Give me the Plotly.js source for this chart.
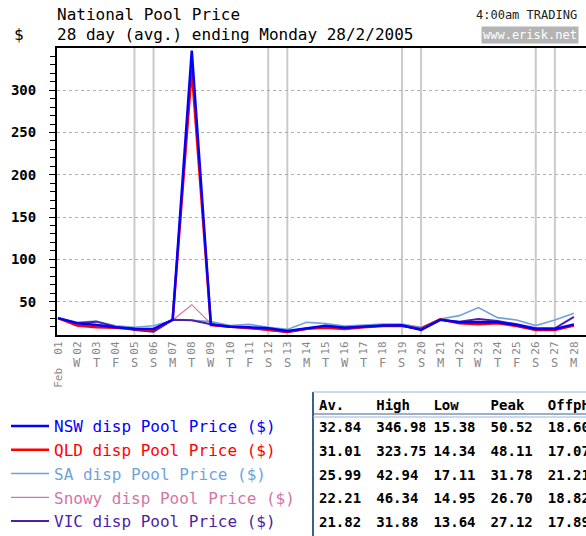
<!DOCTYPE html>
<html><head><meta charset="utf-8">
<script src="https://cdn.plot.ly/plotly-3.0.1.min.js"></script>
<style>
html,body{margin:0;padding:0;overflow:hidden;background:#fff;width:586px;height:536px}
#chart{width:610px;height:550px}
</style>
</head><body><div id="chart"></div>
<script>
// ---- data ----
const days = [1,2,3,4,5,6,7,8,9,10,11,12,13,14,15,16,17,18,19,20,21,22,23,24,25,26,27,28];
const dayNums = ['Feb\u00a0\u00a001','02','03','04','05','06','07','08','09','10','11','12','13','14','15','16','17','18','19','20','21','22','23','24','25','26','27','28'];
const dayLetters = ['','W','T','F','S','S','M','T','W','T','F','S','S','M','T','W','T','F','S','S','M','T','W','T','F','S','S','M'];
const weekendDays = [5,6,12,13,19,20,26,27];

const nsw   = [30.5,24.3,22.3,19.6,18.0,17.6,28.5,346.98,23.1,20.4,19.6,18.4,15.38,18.4,21.5,19.2,20.5,21.8,22.0,16.5,28.5,25.5,25.5,25.5,22.3,17.6,17.6,23.1];
const qld   = [30.5,21.6,19.6,19.2,17.6,16.8,28.5,323.75,22.3,20.4,19.2,16.8,14.34,18.0,19.0,17.6,19.6,21.0,21.0,18.0,29.0,24.3,23.1,24.3,21.2,16.4,16.4,21.6];
const sa    = [31.0,25.5,27.0,21.5,19.6,21.5,28.0,27.9,26.3,21.6,23.1,19.6,17.11,25.5,24.0,21.0,22.3,23.5,23.5,19.5,29.5,33.4,42.94,31.0,28.3,21.6,28.3,36.2];
const snowy = [30.0,24.0,23.0,20.0,17.0,17.0,28.0,46.34,24.0,20.5,19.5,17.5,14.95,18.0,21.0,19.0,20.5,21.5,21.5,17.0,28.5,25.0,27.0,25.5,22.5,17.5,17.5,22.0];
const vic   = [30.5,24.3,26.3,20.4,16.4,14.4,28.5,28.0,23.1,20.4,19.2,16.4,13.64,17.6,21.0,19.0,20.5,21.5,21.5,17.0,28.5,26.3,29.5,27.1,23.1,18.4,18.4,31.88];

const seriesNames = ['NSW disp Pool Price ($)','QLD disp Pool Price ($)','SA disp Pool Price ($)','Snowy disp Pool Price ($)','VIC disp Pool Price ($)'];

const statHeaders = ['Av.','High','Low','Peak','OffpH'];
const statAv   = [32.84,31.01,25.99,22.21,21.82];
const statHigh = [346.98,323.75,42.94,46.34,31.88];
const statLow  = [15.38,14.34,17.11,14.95,13.64];
const statPeak = [50.52,48.11,31.78,26.70,27.12];
const statOff  = [18.60,17.07,21.21,18.82,17.89];

// ---- layout helpers ----
const W = 610, H = 550, ML = 57, MR = 5, MT = 48, MB = 0;
const PW = W - ML - MR, PH = H - MT - MB;
const px = x => (x - ML) / PW;
const py = y => (H - y) / PH;
const MONO = 'DejaVu Sans Mono';

const colors = {nsw:'#0000ff', qld:'#ff0000', sa:'#6fa3dc', snowy:'#d474a6', vic:'#4b1fa8'};
function nm(i, c){ return '<span style="color:'+c+'">'+seriesNames[i]+'</span>'; }

const traces = [
  {x:days, y:sa, name:nm(2,colors.sa), legendrank:3, line:{color:colors.sa, width:1.6}},
  {x:days, y:snowy, name:nm(3,colors.snowy), legendrank:4, line:{color:colors.snowy, width:1.2}},
  {x:days, y:vic, name:nm(4,colors.vic), legendrank:5, line:{color:colors.vic, width:2}},
  {x:days, y:qld, name:nm(1,colors.qld), legendrank:2, line:{color:colors.qld, width:2.5}},
  {x:days, y:nsw, name:nm(0,colors.nsw), legendrank:1, line:{color:colors.nsw, width:2.5}}
].map(t => Object.assign({type:'scatter', mode:'lines', hoverinfo:'skip'}, t));

const fmt = a => a.map(v => v.toFixed(2));
traces.push({
  type:'table',
  domain:{x:[px(311), px(598)], y:[0, py(391.5)]},
  columnwidth:[1,1,1,1,1],
  header:{values:statHeaders, align:'left', height:22,
          font:{family:MONO, size:14, weight:'bold', color:'#000'},
          fill:{color:'rgba(0,0,0,0)'}, line:{color:'rgba(0,0,0,0)', width:0}},
  cells:{values:[fmt(statAv),fmt(statHigh),fmt(statLow),fmt(statPeak),fmt(statOff)],
         align:'left', height:23.75,
         font:{family:MONO, size:14, weight:'bold', color:'#000'},
         fill:{color:'rgba(0,0,0,0)'}, line:{color:'rgba(0,0,0,0)', width:0}}
});

const shapes = weekendDays.map(d => ({type:'line', xref:'x', yref:'y domain', x0:d, x1:d, y0:0, y1:1,
  line:{color:'#cacaca', width:2}, layer:'below'}));
// table frame
shapes.push({type:'line', xref:'paper', yref:'paper', x0:px(313), x1:px(313), y0:py(392), y1:py(550), line:{color:'#3d5f8f', width:2}});
shapes.push({type:'line', xref:'paper', yref:'paper', x0:px(313), x1:1, y0:py(392), y1:py(392), line:{color:'#9ab4d4', width:1}});
shapes.push({type:'line', xref:'paper', yref:'paper', x0:px(313), x1:1, y0:py(414), y1:py(414), line:{color:'#3d5f8f', width:1}});
shapes.push({type:'line', xref:'paper', yref:'paper', x0:px(313), x1:1, y0:py(417), y1:py(417), line:{color:'#9ab4d4', width:1}});

const annotations = days.map((d,i) => ({x:d, xref:'x', y:py(363), yref:'paper', text:dayLetters[i],
  showarrow:false, font:{family:MONO, size:12, color:'#888'}, xanchor:'center', yanchor:'middle'}));
annotations.push(
  {x:px(55), y:py(14), xref:'paper', yref:'paper', text:'National Pool Price', showarrow:false, xanchor:'left', yanchor:'middle', font:{family:MONO, size:16, color:'#000'}},
  {x:px(55), y:py(34), xref:'paper', yref:'paper', text:'28 day (avg.) ending Monday 28/2/2005', showarrow:false, xanchor:'left', yanchor:'middle', font:{family:MONO, size:16, color:'#000'}},
  {x:px(12), y:py(34), xref:'paper', yref:'paper', text:'$', showarrow:false, xanchor:'left', yanchor:'middle', font:{family:MONO, size:16, color:'#000'}},
  {x:px(474), y:py(15), xref:'paper', yref:'paper', text:'4:00am TRADING', showarrow:false, xanchor:'left', yanchor:'middle', font:{family:MONO, size:12, color:'#222'}},
  {x:px(481), y:py(35), xref:'paper', yref:'paper', text:'www.erisk.net', showarrow:false, xanchor:'left', yanchor:'middle', bgcolor:'#b4b4b4', borderpad:1, font:{family:MONO, size:12, color:'#ffffff'}}
);

const x0 = 1 - 1/19.11;
const layout = {
  width:W, height:H,
  margin:{l:ML, r:MR, t:MT, b:MB, pad:0},
  paper_bgcolor:'#fff', plot_bgcolor:'#fff',
  showlegend:true,
  legend:{x:px(6), y:py(409), xanchor:'left', yanchor:'top', font:{family:MONO, size:16},
          bgcolor:'rgba(0,0,0,0)', itemwidth:38, tracegroupgap:0, traceorder:'normal'},
  xaxis:{range:[x0, x0 + PW/19.11], tickvals:days, ticktext:dayNums, tickangle:-90,
         tickfont:{family:MONO, size:11, color:'#888'}, ticks:'', ticklabelstandoff:0,
         showline:true, linewidth:2, linecolor:'#000', mirror:true, showgrid:false, zeroline:false, fixedrange:true},
  yaxis:{domain:[py(335), 1], range:[10.5, 349.9], tick0:0, dtick:50,
         ticks:'outside', ticklen:6, tickcolor:'#000', tickwidth:1,
         showgrid:true, gridcolor:'#b0b0b0', griddash:'dot', gridwidth:1,
         showline:true, linewidth:2, linecolor:'#000', zeroline:false,
         tickfont:{family:MONO, size:14, weight:'bold', color:'#000'}, ticklabelstandoff:10,
         minor:{dtick:10, tick0:0, ticks:'outside', ticklen:5, tickcolor:'#000', tickwidth:1, showgrid:false}},
  shapes:shapes,
  annotations:annotations
};

Plotly.newPlot('chart', traces, layout, {staticPlot:true, displayModeBar:false});
</script>
</body></html>
